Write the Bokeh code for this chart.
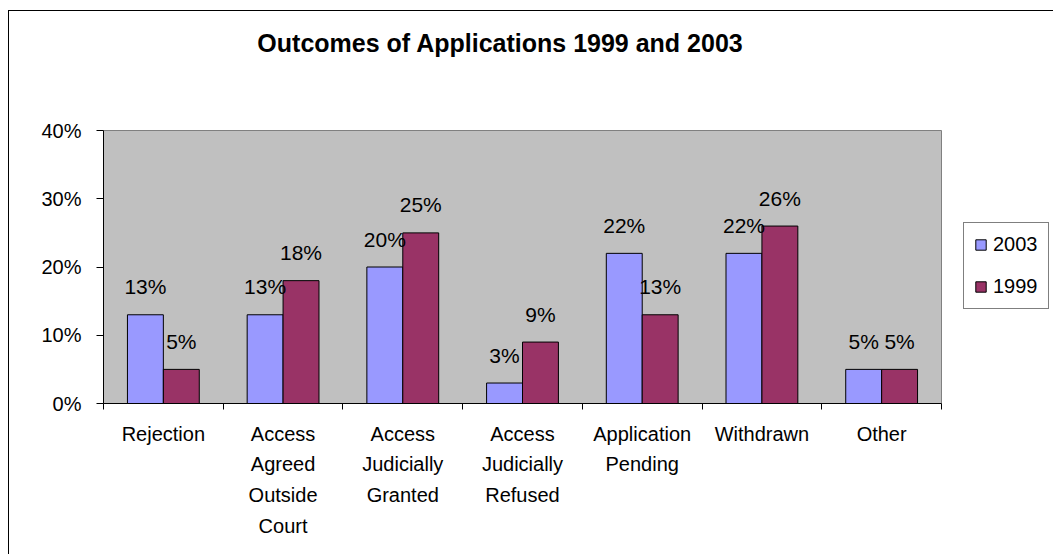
from bokeh.plotting import figure
from bokeh.models import (FixedTicker, PrintfTickFormatter, Range1d, Legend, LegendItem,
                          ColumnDataSource, Label)
from bokeh.core.properties import value
from bokeh.embed import file_html
from bokeh.resources import INLINE

categories = ["Rejection", "Access\nAgreed\nOutside\nCourt", "Access\nJudicially\nGranted",
              "Access\nJudicially\nRefused", "Application\nPending", "Withdrawn", "Other"]
series_names = ["2003", "1999"]
values_2003 = [13, 13, 20, 3, 22, 22, 5]
values_1999 = [5, 18, 25, 9, 13, 26, 5]
y_ticks = [0, 10, 20, 30, 40]
title_text = "Outcomes of Applications 1999 and 2003"

FONT = "Liberation Sans"
n = len(categories)
Y_MAX = 40

# layout (pixels); figure placed at (9, 11) inside an outer chart border
OX, OY = 9, 11
W, H = 1055 - OX - 1, 557 - OY - 2
LEFT, BOTTOM = 103 - OX, H - (403 - OY)
PLOT_W, PLOT_H = 838, 273          # grey plot area size
frame_w, frame_h = W - LEFT, H - BOTTOM
x_end = n * frame_w / PLOT_W
y_end = Y_MAX * frame_h / PLOT_H

x_2003 = [i + 0.35 for i in range(n)]
x_1999 = [i + 0.65 for i in range(n)]

p = figure(width=W, height=H, output_backend="svg", toolbar_location=None,
           x_range=Range1d(0, x_end), y_range=Range1d(0, y_end),
           min_border_left=LEFT, min_border_right=0, min_border_top=0, min_border_bottom=BOTTOM)
p.background_fill_color = "white"
p.border_fill_color = "white"
p.outline_line_color = None
p.xgrid.visible = False
p.ygrid.visible = False
p.styles = {"border-left": "1px solid black", "border-top": "1px solid black",
            "margin-left": f"{OX - 1}px", "margin-top": f"{OY - 1}px"}

# grey plot area
p.quad(left=[0], right=[n], bottom=[0], top=[Y_MAX], fill_color="#C0C0C0",
       line_color="#808080", line_width=1)

src3 = ColumnDataSource(dict(x=x_2003, top=values_2003, lab=[f"{v}%" for v in values_2003]))
src9 = ColumnDataSource(dict(x=x_1999, top=values_1999, lab=[f"{v}%" for v in values_1999]))
r3 = p.vbar(x="x", top="top", width=0.3, source=src3, fill_color="#9999FF", line_color="black", line_width=1)
r9 = p.vbar(x="x", top="top", width=0.3, source=src9, fill_color="#993366", line_color="black", line_width=1)
for s in (src3, src9):
    p.text(x="x", y="top", text="lab", source=s, text_align="center", text_baseline="middle",
           y_offset=-28, text_font=value(FONT), text_font_size="21px", text_color="black")

# y axis
ya = p.yaxis[0]
ya.bounds = (0, Y_MAX)
ya.ticker = FixedTicker(ticks=y_ticks)
ya.formatter = PrintfTickFormatter(format="%d%%")
ya.major_tick_out = 7
ya.major_tick_in = 0
ya.minor_tick_line_color = None
ya.major_label_standoff = 15
ya.major_label_text_font = FONT
ya.major_label_text_font_size = "20px"
ya.major_label_text_color = "black"
ya.axis_line_color = "black"
ya.major_tick_line_color = "black"

# x axis
xa = p.xaxis[0]
xa.bounds = (0, n)
xa.ticker = FixedTicker(ticks=[i + 0.5 for i in range(n)], minor_ticks=list(range(n + 1)))
xa.major_label_overrides = {i + 0.5: c for i, c in enumerate(categories)}
xa.major_tick_out = 0
xa.major_tick_in = 0
xa.minor_tick_out = 6
xa.minor_tick_in = 0
xa.minor_tick_line_color = "black"
xa.axis_line_color = "black"
xa.major_label_standoff = 13
xa.major_label_text_font = FONT
xa.major_label_text_font_size = "20px"
xa.major_label_text_line_height = 1.4
xa.major_label_text_color = "black"

# title (placed in data space above the grey area)
title_x = (500 - 103) * n / PLOT_W
title_y = (frame_h - (42 - OY)) * Y_MAX / PLOT_H
p.add_layout(Label(x=title_x, y=title_y, text=title_text, text_align="center",
                   text_baseline="middle", text_font=FONT, text_font_size="25px",
                   text_font_style="bold", text_color="black"))

legend = Legend(items=[LegendItem(label=series_names[0], renderers=[r3]),
                       LegendItem(label=series_names[1], renderers=[r9])],
                location=(963 - 103, 403 - 309))
legend.border_line_color = "black"
legend.border_line_width = 1
legend.background_fill_color = "white"
legend.label_text_font = FONT
legend.label_text_font_size = "20px"
legend.label_text_color = "black"
legend.glyph_width = 13
legend.glyph_height = 13
legend.label_height = 20
legend.label_standoff = 6
legend.spacing = 19
legend.padding = 10
legend.margin = 0
p.add_layout(legend, "center")

open("out.html", "w").write(file_html(p, INLINE))
